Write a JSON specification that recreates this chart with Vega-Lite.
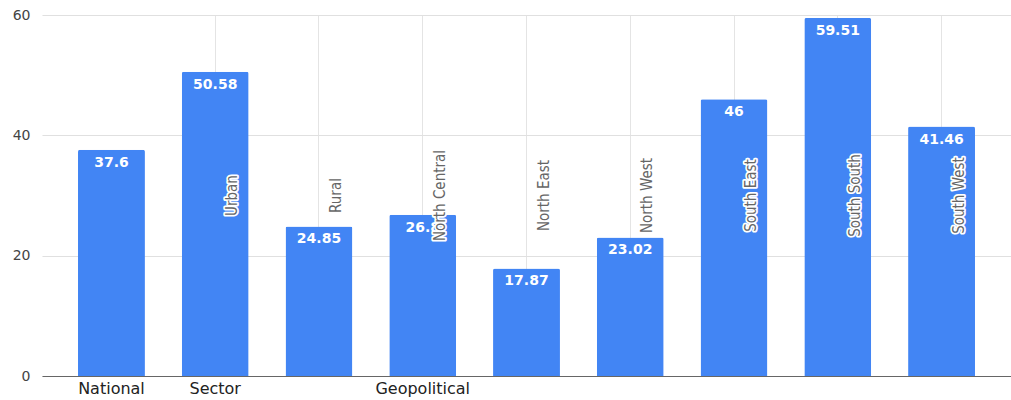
{
  "$schema": "https://vega.github.io/schema/vega-lite/v6.json",
  "width": 969,
  "height": 361,
  "autosize": "none",
  "padding": {"left": 42, "top": 15, "right": 0, "bottom": 24},
  "background": "white",
  "config": {
    "view": {"stroke": null},
    "font": "DejaVu Sans"
  },
  "data": {
    "values": [
      {"region": "National", "value": 37.6, "label": "37.6"},
      {"region": "Urban", "value": 50.58, "label": "50.58"},
      {"region": "Rural", "value": 24.85, "label": "24.85"},
      {"region": "North Central", "value": 26.8, "label": "26.8"},
      {"region": "North East", "value": 17.87, "label": "17.87"},
      {"region": "North West", "value": 23.02, "label": "23.02"},
      {"region": "South East", "value": 46, "label": "46"},
      {"region": "South South", "value": 59.51, "label": "59.51"},
      {"region": "South West", "value": 41.46, "label": "41.46"}
    ]
  },
  "encoding": {
    "x": {
      "field": "region",
      "type": "nominal",
      "sort": null,
      "scale": {"paddingInner": 0.355, "paddingOuter": 0.347},
      "axis": {
        "title": null,
        "labelAngle": 0,
        "labelExpr": "datum.value === 'National' ? 'National' : datum.value === 'Urban' ? 'Sector' : datum.value === 'North Central' ? 'Geopolitical' : ''",
        "labelFont": "DejaVu Sans",
        "labelFontSize": 16,
        "labelColor": "#222222",
        "labelPadding": 4,
        "labelBaseline": "top",
        "ticks": false,
        "domain": true,
        "domainColor": "#666666",
        "domainWidth": 1.2,
        "grid": true,
        "gridColor": {"condition": {"test": "datum.value === 'National'", "value": "transparent"}, "value": "#e4e4e4"},
        "gridWidth": 1
      }
    }
  },
  "layer": [
    {
      "mark": {"type": "bar", "color": "#4285F4", "cornerRadiusTopLeft": 2, "cornerRadiusTopRight": 2},
      "encoding": {
        "y": {
          "field": "value",
          "type": "quantitative",
          "scale": {"domain": [0, 60], "nice": false},
          "axis": {
            "title": null,
            "values": [0, 20, 40, 60],
            "labelFont": "DejaVu Sans",
            "labelFontSize": 14,
            "labelColor": "#444444",
            "labelPadding": 12,
            "ticks": false,
            "domain": false,
            "grid": true,
            "gridColor": "#e0e0e0",
            "gridWidth": 1.2
          }
        }
      }
    },
    {
      "mark": {
        "type": "text",
        "color": "white",
        "font": "DejaVu Sans",
        "fontWeight": "bold",
        "fontSize": 14,
        "align": "center",
        "baseline": "alphabetic",
        "dy": 17
      },
      "encoding": {
        "y": {"field": "value", "type": "quantitative"},
        "text": {"field": "label"}
      }
    },
    {
      "transform": [{"filter": "datum.region !== 'National'"}],
      "mark": {
        "type": "text",
        "angle": 270,
        "font": "'DejaVu Sans Condensed', 'DejaVu Sans', sans-serif",
        "fontSize": 15,
        "align": "center",
        "baseline": "middle",
        "dy": 17,
        "fill": "white",
        "stroke": "white",
        "strokeWidth": 3.5,
        "strokeJoin": "round"
      },
      "encoding": {
        "y": {"datum": 30, "type": "quantitative"},
        "text": {"field": "region"}
      }
    },
    {
      "transform": [{"filter": "datum.region !== 'National'"}],
      "mark": {
        "type": "text",
        "angle": 270,
        "font": "'DejaVu Sans Condensed', 'DejaVu Sans', sans-serif",
        "fontSize": 15,
        "align": "center",
        "baseline": "middle",
        "dy": 17,
        "fill": "#666666"
      },
      "encoding": {
        "y": {"datum": 30, "type": "quantitative"},
        "text": {"field": "region"}
      }
    }
  ]
}
